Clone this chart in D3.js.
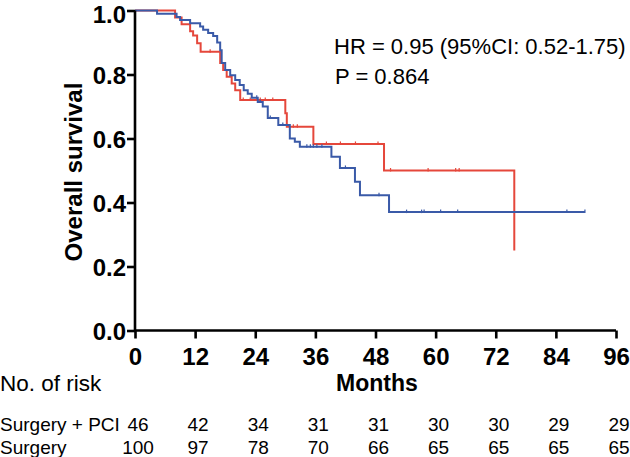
<!DOCTYPE html>
<html><head><meta charset="utf-8">
<script src="https://cdn.jsdelivr.net/npm/d3@7"></script>
<style>
body{margin:0;background:#fff;}
text{font-family:"Liberation Sans",Arial,Helvetica,sans-serif;}
</style></head>
<body><svg id="c" width="630" height="457"></svg>
<script>
// ---- data ----
const xTicks = [0,12,24,36,48,60,72,84,96];
const yTicks = [0,0.2,0.4,0.6,0.8,1.0];
const groups = ["Surgery + PCI","Surgery"];
// Surgery + PCI (red): step times and survival after each step
const pciTimes = [0,8.0,9.3,11.0,11.6,12.4,13.1,17.0,17.6,18.3,19.3,20.0,21.0,30.0,30.3,35.6,49.7,75.7];
const pciSurv  = [1.0,0.978,0.957,0.935,0.922,0.898,0.871,0.836,0.814,0.793,0.772,0.751,0.720,0.679,0.637,0.583,0.500,0.250];
const pciEnd = 75.7;
const pciCensor = [15.0,21.6,23.0,25.0,26.0,27.5,31.6,32.4,38.2,41.0,44.0,48.5,51.0,58.5,64.0,64.7];
// Surgery (blue)
const surTimes = [0,4.4,8.3,9.0,11.0,13.0,13.6,14.6,15.6,16.4,17.0,17.3,18.0,19.0,20.0,20.9,21.7,22.5,23.3,24.5,25.5,26.5,28.6,30.9,31.9,32.9,39.2,40.9,43.9,44.9,50.7];
const surSurv  = [1.0,0.99,0.98,0.97,0.96,0.95,0.94,0.93,0.92,0.90,0.876,0.836,0.814,0.798,0.783,0.767,0.751,0.740,0.727,0.714,0.700,0.664,0.642,0.600,0.590,0.574,0.543,0.508,0.465,0.423,0.370];
const surEnd = 89.8;
const surCensor = [24.3,25.0,27.0,29.5,34.3,35.0,35.6,36.3,37.3,42.0,48.7,54.2,57.2,57.7,61.0,64.4,86.2,89.8];
const riskPCI = [46,42,34,31,31,30,30,29,29];
const riskSur = [100,97,78,70,66,65,65,65,65];
const hrText = "HR = 0.95 (95%CI: 0.52-1.75)";
const pText = "P = 0.864";

// ---- chart ----
const svg = d3.select("#c");
const x = d3.scaleLinear().domain([0,96]).range([135,616]);
const y = d3.scaleLinear().domain([0,1]).range([330.5,10.5]);
const red = "#e5473b", blue = "#3a5aa8";

function stepPath(times, surv, end){
  const pts = times.map((t,i)=>[t,surv[i]]);
  pts.push([end, surv[surv.length-1]]);
  return d3.line().x(d=>x(d[0])).y(d=>y(d[1])).curve(d3.curveStepAfter)(pts);
}
function survAt(times, surv, t){
  let s = 1; for(let i=0;i<times.length;i++){ if(times[i]<=t) s=surv[i]; } return s;
}
function drawCurve(times,surv,end,censor,color){
  svg.append("path").attr("d",stepPath(times,surv,end)).attr("fill","none")
    .attr("stroke",color).attr("stroke-width",2);
  svg.append("g").selectAll("line").data(censor).join("line")
    .attr("x1",d=>x(d)).attr("x2",d=>x(d))
    .attr("y1",d=>y(survAt(times,surv,d))-2.5).attr("y2",d=>y(survAt(times,surv,d))+1)
    .attr("stroke",color).attr("stroke-width",1.2);
}
drawCurve(pciTimes,pciSurv,pciEnd,pciCensor,red);
drawCurve(surTimes,surSurv,surEnd,surCensor,blue);

// axes
const xAxis = svg.append("g").attr("transform","translate(0,330.5)")
  .call(d3.axisBottom(x).tickValues(xTicks).tickSize(8).tickPadding(9).tickFormat(d3.format("d")));
const yAxis = svg.append("g").attr("transform","translate(135,0)")
  .call(d3.axisLeft(y).tickValues(yTicks).tickSize(8).tickPadding(1).tickFormat(d3.format(".1f")));
[xAxis,yAxis].forEach(a=>{
  a.select(".domain").attr("stroke","#000").attr("stroke-width",2.6);
  a.selectAll(".tick line").attr("stroke","#000").attr("stroke-width",2.6);
  a.selectAll(".tick text").attr("fill","#000").style("font-size","24px").style("font-weight","bold")
   .style("font-family","'Liberation Sans',Arial,sans-serif");
});
yAxis.selectAll(".tick text").attr("dy",d=> d===1 ? "0.48em" : "0.38em");
xAxis.select(".domain").attr("d","M135,0H616");
yAxis.select(".domain").attr("d","M0,330.5V10.5");

svg.append("text").attr("transform","translate(82,172) rotate(-90)").attr("text-anchor","middle")
  .style("font-size","24px").style("font-weight","bold").text("Overall survival");
svg.append("text").attr("x",377).attr("y",391).attr("text-anchor","middle")
  .style("font-size","23px").style("font-weight","bold").text("Months");
svg.append("text").attr("x",0).attr("y",391).style("font-size","22.5px").text("No. of risk");

svg.append("text").attr("x",334).attr("y",54).style("font-size","22px").text(hrText);
svg.append("text").attr("x",335).attr("y",84).style("font-size","22px").text(pText);

// risk table
const rows = [riskPCI, riskSur];
rows.forEach((r,i)=>{
  const yy = 431 + i*23;
  svg.append("text").attr("x",0).attr("y",yy).style("font-size","19px").text(groups[i]);
  svg.append("g").selectAll("text").data(r).join("text")
    .attr("x",(d,j)=>x(xTicks[j])+3).attr("y",yy).attr("text-anchor","middle")
    .style("font-size","19px").text(d=>d);
});
</script></body></html>
